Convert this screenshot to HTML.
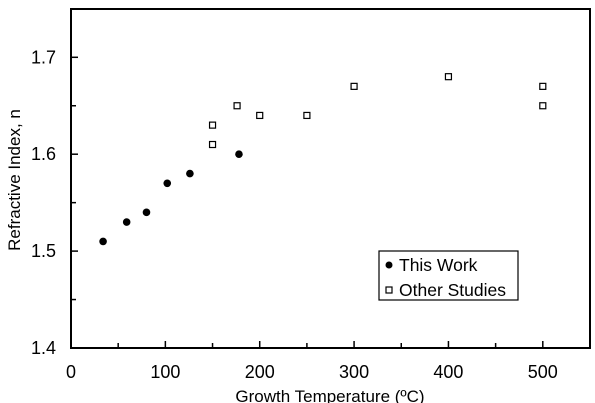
<!DOCTYPE html>
<html><head><meta charset="utf-8"><style>
body{margin:0;background:#fff;}
svg{display:block;font-family:"Liberation Sans",Arial,sans-serif;}
</style></head><body>
<svg id="chart" width="595" height="403" viewBox="0 0 595 403">
<rect x="71" y="9" width="519" height="339" fill="none" stroke="#000" stroke-width="2"/>
<g id="ticks"></g>
<g id="marks"></g>
<text x="20" y="180" font-size="17" text-anchor="middle" transform="rotate(-90 20 180)">Refractive Index, n</text>
<text x="330" y="402" font-size="17" text-anchor="middle">Growth Temperature (ºC)</text>
<g>
<rect x="379" y="251" width="139" height="49" fill="#fff" stroke="#000" stroke-width="1.2"/>
<circle cx="389" cy="265" r="3.5" fill="#000"/>
<text x="399" y="271" font-size="17.5">This Work</text>
<rect x="386" y="287" width="6" height="6" fill="#fff" stroke="#000" stroke-width="1.2"/>
<text x="399" y="296" font-size="17.5">Other Studies</text>
</g>
</svg>
<script>
const xTicks=[0,100,200,300,400,500];
const xMinor=[50,150,250,350,450];
const yTicks=[1.4,1.5,1.6,1.7];
const yMinor=[1.45,1.55,1.65];
const thisWorkX=[34,59,80,102,126,178];
const thisWorkY=[1.51,1.53,1.54,1.57,1.58,1.60];
const otherX=[150,150,176,200,250,300,400,500,500];
const otherY=[1.63,1.61,1.65,1.64,1.64,1.67,1.68,1.67,1.65];
const NS="http://www.w3.org/2000/svg";
const X=v=>71+v*0.9436;
const Y=v=>348-(v-1.4)*969;
const tg=document.getElementById('ticks'),mg=document.getElementById('marks');
function mk(tag,attrs,parent){const e=document.createElementNS(NS,tag);for(const k in attrs)e.setAttribute(k,attrs[k]);parent.appendChild(e);return e;}
xTicks.forEach(v=>{
 const l=mk('line',{x1:X(v),x2:X(v),y1:348,y2:341,stroke:'#000','stroke-width':1.5},tg);
 
 
 const t=mk('text',{x:X(v),y:378,'font-size':18,'text-anchor':'middle'},tg);t.textContent=v;
 
 
});
xMinor.forEach(v=>{
 const l=mk('line',{x1:X(v),x2:X(v),y1:348,y2:343,stroke:'#000','stroke-width':1.5},tg);
 
 
});
yTicks.forEach(v=>{
 const l=mk('line',{x1:71,x2:78,y1:Y(v),y2:Y(v),stroke:'#000','stroke-width':1.5},tg);
 
 
 const t=mk('text',{x:56,y:Y(v)+6,'font-size':18,'text-anchor':'end'},tg);t.textContent=v.toFixed(1);
 
 
});
yMinor.forEach(v=>{
 const l=mk('line',{x1:71,x2:76,y1:Y(v),y2:Y(v),stroke:'#000','stroke-width':1.5},tg);
 
 
});
thisWorkX.forEach((v,i)=>{
 const c=mk('circle',{cx:X(v),cy:Y(thisWorkY[i]),r:3.8,fill:'#000'},mg);
 
 
});
otherX.forEach((v,i)=>{
 const r=mk('rect',{x:X(v)-3,y:Y(otherY[i])-3,width:6,height:6,fill:'#fff',stroke:'#000','stroke-width':1.2},mg);
 
 
});
</script>
</body></html>
